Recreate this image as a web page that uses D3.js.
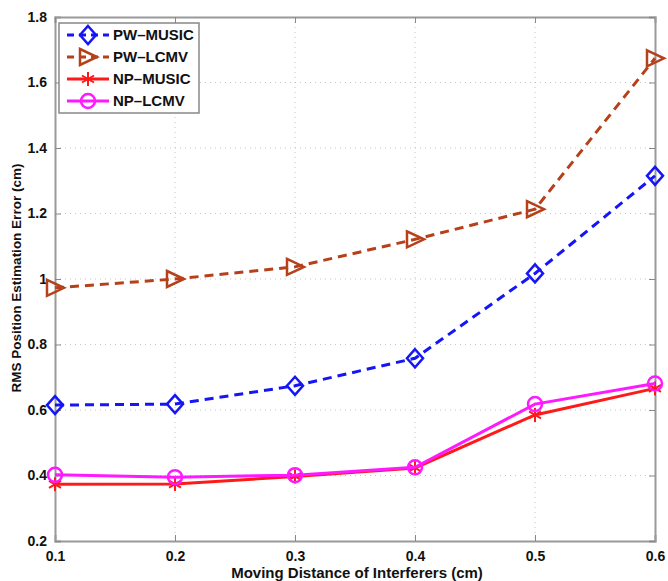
<!DOCTYPE html>
<meta charset="utf-8">
<script src="https://d3js.org/d3.v7.min.js"></script>
<html>
<body style="margin:0; background:#fff;">
<div id="chart"></div>
<script>
// data
var distances = [0.1, 0.2, 0.3, 0.4, 0.5, 0.6];
var pwMusic = [0.615, 0.618, 0.674, 0.758, 1.017, 1.315];
var pwLcmv  = [0.973, 1.0, 1.037, 1.121, 1.213, 1.674];
var npMusic = [0.373, 0.374, 0.397, 0.423, 0.585, 0.666];
var npLcmv  = [0.402, 0.395, 0.401, 0.425, 0.618, 0.681];
var seriesNames = ["PW\u2013MUSIC", "PW\u2013LCMV", "NP\u2013MUSIC", "NP\u2013LCMV"];
var yTicks = [0.2, 0.4, 0.6, 0.8, 1, 1.2, 1.4, 1.6, 1.8];

var colors = ["#1515f5", "#b5401a", "#ff1a1a", "#ff19ff"];
var dashed = [true, true, false, false];
var markers = ["diamond", "triangle", "star", "circle"];
var allSeries = [pwMusic, pwLcmv, npMusic, npLcmv];

var margin = {top: 17, right: 13, bottom: 40, left: 55},
    width = 668 - margin.left - margin.right,
    height = 581 - margin.top - margin.bottom;

var svg = d3.select("#chart").append("svg")
    .attr("width", 668)
    .attr("height", 581)
    .style("font-family", "'Liberation Sans', Arial, sans-serif");

var g = svg.append("g")
    .attr("transform", "translate(" + margin.left + "," + margin.top + ")");

var x = d3.scaleLinear().domain([0.1, 0.6]).range([0, width]);
var y = d3.scaleLinear().domain([0.2, 1.8]).range([height, 0]);

// grid
g.append("g").selectAll("line").data(distances.slice(1, -1)).enter().append("line")
    .attr("x1", function(d) { return x(d); }).attr("x2", function(d) { return x(d); })
    .attr("y1", 0).attr("y2", height)
    .attr("stroke", "#c4c4c4").attr("stroke-width", 1).attr("stroke-dasharray", "1,4");
g.append("g").selectAll("line").data(yTicks.slice(1, -1)).enter().append("line")
    .attr("y1", function(d) { return y(d); }).attr("y2", function(d) { return y(d); })
    .attr("x1", 0).attr("x2", width)
    .attr("stroke", "#c4c4c4").attr("stroke-width", 1).attr("stroke-dasharray", "1,4");

// axes
var xAxis = g.append("g").attr("transform", "translate(0," + height + ")")
    .call(d3.axisBottom(x).tickValues(distances).tickSize(-6).tickPadding(10)
      .tickFormat(d3.format(".1f")));
var yAxis = g.append("g")
    .call(d3.axisLeft(y).tickValues(yTicks).tickSize(-6).tickPadding(8)
      .tickFormat(function(d) { return d === 1 ? "1" : d3.format(".1f")(d); }));
g.append("g").call(d3.axisTop(x).tickValues(distances).tickSize(-6).tickFormat(""));
g.append("g").attr("transform", "translate(" + width + ",0)")
    .call(d3.axisRight(y).tickValues(yTicks).tickSize(-6).tickFormat(""));

g.selectAll(".domain").attr("stroke", "#999").attr("stroke-width", 2);
g.selectAll(".tick line").attr("stroke", "#888").attr("stroke-width", 1);
g.selectAll(".tick text").attr("fill", "#111")
    .style("font-size", "14px").style("font-weight", "bold");
yAxis.selectAll(".tick text").attr("dy", "0.32em");

// lines
var line = d3.line()
    .x(function(d, i) { return x(distances[i]); })
    .y(function(d) { return y(d); });

function drawMarker(sel, type, color) {
  if (type === "diamond") {
    sel.append("path").attr("d", "M0,-9L8,0L0,9L-8,0Z")
      .attr("fill", "none").attr("stroke", color).attr("stroke-width", 2.5);
  } else if (type === "triangle") {
    sel.append("path").attr("d", "M-8,-8L9,0L-8,8Z")
      .attr("fill", "none").attr("stroke", color).attr("stroke-width", 2.5);
  } else if (type === "circle") {
    sel.append("circle").attr("r", 7)
      .attr("fill", "none").attr("stroke", color).attr("stroke-width", 2.5);
  } else {
    sel.append("path").attr("d", "M0,-7L0,7M-6,-3.5L6,3.5M-6,3.5L6,-3.5")
      .attr("fill", "none").attr("stroke", color).attr("stroke-width", 2);
  }
}

allSeries.forEach(function(vals, s) {
  g.append("path").datum(vals)
    .attr("d", line)
    .attr("fill", "none")
    .attr("stroke", colors[s])
    .attr("stroke-width", 3)
    .attr("stroke-dasharray", dashed[s] ? "9,6" : null);
  vals.forEach(function(v, i) {
    var m = g.append("g").attr("transform", "translate(" + x(distances[i]) + "," + y(v) + ")");
    drawMarker(m, markers[s], colors[s]);
  });
});

// legend
var legend = g.append("g").attr("transform", "translate(4,6)");
legend.append("rect").attr("width", 140).attr("height", 90)
  .attr("fill", "#fff").attr("stroke", "#888").attr("stroke-width", 1.5);
seriesNames.forEach(function(name, s) {
  var ly = 12 + s * 22;
  legend.append("line").attr("x1", 8).attr("x2", 50).attr("y1", ly).attr("y2", ly)
    .attr("stroke", colors[s]).attr("stroke-width", 3)
    .attr("stroke-dasharray", dashed[s] ? "7,5" : null);
  var m = legend.append("g").attr("transform", "translate(29," + ly + ")");
  drawMarker(m, markers[s], colors[s]);
  legend.append("text").attr("x", 54).attr("y", ly).attr("dy", "0.35em")
    .style("font-size", "15px").style("font-weight", "bold").attr("fill", "#111")
    .text(name);
});

// axis titles
svg.append("text")
  .attr("x", margin.left + width / 2 + 2).attr("y", 578)
  .attr("text-anchor", "middle")
  .style("font-size", "15px").style("font-weight", "bold").attr("fill", "#111")
  .text("Moving Distance of Interferers (cm)");
svg.append("text")
  .attr("transform", "translate(21,278) rotate(-90)")
  .attr("text-anchor", "middle")
  .style("font-size", "13.5px").style("font-weight", "bold").attr("fill", "#111")
  .text("RMS Position Estimation Error (cm)");
</script>
</body>
</html>
